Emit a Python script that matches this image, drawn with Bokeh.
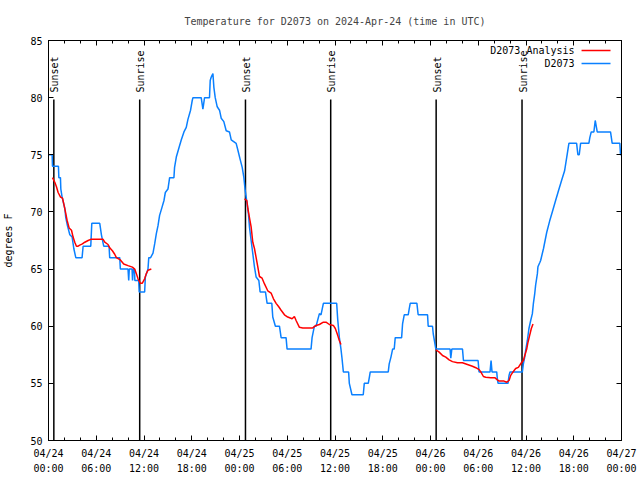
import math
from bokeh.plotting import figure
from bokeh.models import Range1d, FixedTicker, LinearAxis, Label
from bokeh.core.properties import value
from bokeh.embed import file_html
from bokeh.resources import INLINE

TITLE = "Temperature for D2073 on 2024-Apr-24 (time in UTC)"
Y_LABEL = "degrees F"

# hours since 2024-04-24 00:00 UTC
blue_hours = [
    0.00, 0.46, 0.50, 1.25, 1.30, 1.50, 1.55, 1.71, 2.05, 2.17, 2.38, 2.68, 2.97, 3.18, 3.43,
    4.22, 4.35, 5.31, 5.44, 6.44, 6.65, 6.94, 7.61, 7.69, 8.95, 9.03, 9.99, 10.08, 10.15, 10.50,
    10.56, 10.65, 10.80, 10.85, 11.33, 11.40, 12.08, 12.17, 12.50, 12.60, 12.83, 13.13, 13.34,
    13.55, 13.76, 13.96, 14.26, 14.51, 14.68, 15.01, 15.22, 15.76, 15.84, 16.06, 16.35, 16.68,
    17.02, 17.31, 17.52, 17.85, 18.06, 18.15, 19.19, 19.40, 19.61, 20.23, 20.32, 20.45, 20.66,
    20.78, 20.95, 21.20, 21.49, 21.70, 22.03, 22.33, 22.74, 22.96, 23.58, 23.80, 24.08, 24.34,
    24.55, 24.71, 24.96, 25.13, 25.25, 25.46, 25.68, 25.88, 26.09, 26.43, 26.59, 27.26, 27.47,
    28.06, 28.18, 28.51, 29.02, 29.23, 29.85, 29.98, 32.99, 33.12, 33.41, 33.62, 34.04, 34.24,
    34.54, 36.21, 36.34, 36.55, 36.75, 36.88, 37.05, 37.71, 37.80, 38.13, 39.55, 39.68, 40.18,
    40.31, 40.43, 42.69, 42.81, 43.03, 43.24, 43.44, 43.57, 44.37, 44.49, 44.70, 45.20, 45.32,
    45.45, 46.29, 46.45, 47.63, 47.71, 48.25, 48.35, 48.50, 48.67, 50.46, 50.55, 50.68, 52.02,
    52.14, 53.98, 54.10, 55.48, 55.61, 55.73, 56.32, 56.40, 56.49, 57.74, 57.87, 57.99, 59.54,
    59.67, 59.84, 59.96, 60.17, 60.37, 60.59, 60.80, 60.93, 61.09, 61.21, 61.43, 61.50, 61.75,
    61.84, 62.20, 62.60, 62.97, 63.35, 63.72, 64.10, 64.47, 64.85, 65.19, 65.39, 66.36, 66.52,
    66.69, 66.86, 67.90, 68.02, 68.20, 68.53, 68.70, 68.95, 70.62, 70.83, 71.79, 71.88, 72.00,
]
blue_temps = [
    75, 75, 74, 74, 73, 73, 72, 71.3, 70.3, 69.5, 68.8, 68, 67.8, 66.8, 66,
    66, 67, 67, 69, 69, 68, 67, 67, 66, 66, 65, 65, 64, 65, 65,
    64, 65, 65, 64, 64, 63, 63, 64.3, 65, 66, 66, 66.4, 67.2,
    68.1, 68.8, 69.7, 70.4, 71, 71.7, 72, 73, 73, 73.9, 74.8, 75.5, 76.3,
    77, 77.4, 78.1, 78.9, 79.75, 80, 80, 79, 80, 80, 81.5, 81.8, 82.1,
    80.9, 80, 79.2, 78.9, 78.2, 77.9, 77.1, 77, 76.3, 76, 75.4, 74.6, 73.9,
    73, 71.9, 70.7, 69.8, 68.7, 67.5, 66.3, 65.2, 64.3, 64, 63, 63, 62,
    62, 60.8, 60, 60, 59, 59, 58, 58, 59, 60, 60, 61.1, 61,
    62, 62, 60.6, 59, 58, 57.2, 56, 56, 55, 54, 54, 55, 55,
    55.5, 56, 56, 56.7, 57.3, 58, 58, 59, 59, 60.2, 61, 61, 61.5,
    62, 62, 61, 61, 60, 60, 59.3, 58.7, 58, 58, 57.2, 58, 58,
    57, 57, 56, 56, 57, 56, 56, 55.4, 55, 55, 55.7, 56, 56,
    56.7, 57.3, 57.9, 58.75, 59.8, 60.5, 61.1, 62, 62.8, 63.6, 64.6, 65.2, 65.6,
    65.75, 66.8, 68.2, 69.2, 70.1, 71, 71.9, 72.75, 73.6, 75.1, 76, 76, 75,
    75, 76, 76, 76.5, 77, 77, 78, 77, 77, 76, 76, 75, 75,
]

# analysis series (three pieces)
red_hours_1 = [0.50, 0.79, 1.00, 1.21, 1.51, 1.76, 1.92, 2.13, 2.34, 2.59, 2.89, 3.09, 3.30, 3.51,
               3.72, 3.93, 4.26, 4.56, 4.98, 5.31, 6.86, 7.07, 7.48, 7.69, 8.03, 8.32, 8.53, 9.03,
               9.45, 9.99, 10.54, 10.83, 11.04, 11.25, 11.54, 11.79, 12.08, 12.29, 12.50, 12.92]
red_temps_1 = [73.0, 72.6, 72.2, 71.7, 71.3, 71.2, 70.7, 70.0, 69.25, 68.6, 68.4, 67.8, 67.35, 67.0,
               67.0, 67.1, 67.2, 67.35, 67.5, 67.6, 67.6, 67.35, 67.15, 66.86, 66.6, 66.3, 66.0, 65.8,
               65.45, 65.3, 65.17, 65.0, 64.6, 64.15, 63.77, 63.77, 64.15, 64.6, 64.9, 65.0]
red_hours_2 = [24.63, 24.92, 25.05, 25.25, 25.46, 25.67, 25.88, 26.09, 26.30, 26.51, 26.84, 27.14,
               27.55, 27.97, 28.27, 28.60, 28.93, 29.23, 29.65, 30.06, 30.61, 30.90, 31.11, 31.53,
               31.95, 33.20, 33.62, 34.04, 34.54, 34.87, 35.29, 35.79, 36.04, 36.34, 36.54, 36.75]
red_temps_2 = [71.15, 71.0, 70.3, 69.5, 68.7, 67.35, 66.8, 66.0, 65.2, 64.35, 64.2, 63.7,
               63.1, 62.9, 62.4, 62.0, 61.7, 61.4, 61.0, 60.8, 60.65, 60.85, 60.5, 59.9,
               59.85, 59.85, 60.07, 60.15, 60.35, 60.35, 60.15, 60.07, 59.8, 59.2, 58.75, 58.4]
red_hours_3 = [48.67, 49.09, 49.51, 49.92, 50.34, 50.76, 51.39, 52.01, 52.64, 53.27, 53.69, 54.11,
               54.32, 54.65, 54.94, 55.57, 56.07, 56.41, 56.62, 57.24, 57.58, 57.87, 58.08, 58.37,
               58.70, 59.04, 59.42, 59.67, 59.83, 60.09, 60.25, 60.46, 60.67, 60.88]
red_temps_3 = [57.94, 57.73, 57.44, 57.3, 57.06, 56.9, 56.8, 56.8, 56.65, 56.5, 56.37, 56.2,
               56.0, 55.6, 55.54, 55.5, 55.5, 55.3, 55.2, 55.2, 55.1, 55.25, 55.7, 56.0,
               56.3, 56.4, 56.8, 57.0, 57.4, 58.0, 58.6, 59.2, 59.8, 60.2]

sun_hours = [0.67, 11.46, 24.75, 35.46, 48.71, 59.50]
sun_labels = ["Sunset", "Sunrise", "Sunset", "Sunrise", "Sunset", "Sunrise"]

x_tick_hours = [0, 6, 12, 18, 24, 30, 36, 42, 48, 54, 60, 66, 72]
x_tick_labels = ["04/24\n00:00", "04/24\n06:00", "04/24\n12:00", "04/24\n18:00",
                 "04/25\n00:00", "04/25\n06:00", "04/25\n12:00", "04/25\n18:00",
                 "04/26\n00:00", "04/26\n06:00", "04/26\n12:00", "04/26\n18:00",
                 "04/27\n00:00"]
x_minor_hours = list(range(0, 73, 2))
y_ticks = [50, 55, 60, 65, 70, 75, 80, 85]

BLUE = "#0a80ff"
RED = "#ff0000"
FONT = "DejaVu Sans Mono"
FS = "10px"

p = figure(width=640, height=480, output_backend="svg", toolbar_location=None,
           x_range=Range1d(0, 72), y_range=Range1d(50, 85),
           min_border_left=47, min_border_right=19, min_border_top=40, min_border_bottom=40,
           title=TITLE)
p.title.align = "center"
p.title.text_font = FONT
p.title.text_font_size = FS
p.title.text_font_style = "normal"
p.title.text_line_height = 1.0
p.title.standoff = 27
p.xgrid.visible = False
p.ygrid.visible = False
p.outline_line_color = "black"
p.background_fill_color = "white"
p.border_fill_color = "white"

xt = FixedTicker(ticks=x_tick_hours, minor_ticks=x_minor_hours)
yt = FixedTicker(ticks=y_ticks, minor_ticks=[])

def style_axis(ax, labels=True):
    ax.axis_line_color = "black"
    ax.major_tick_line_color = "black"
    ax.minor_tick_line_color = "black"
    ax.major_tick_in = 5
    ax.major_tick_out = 0
    ax.minor_tick_in = 3
    ax.minor_tick_out = 0
    ax.major_label_text_font = FONT
    if labels:
        ax.major_label_text_font_size = FS
        ax.major_label_text_color = "black"
    else:
        ax.major_label_text_font_size = "1px"
        ax.major_label_text_color = None
        ax.major_label_standoff = 0

xa = p.xaxis[0]
xa.ticker = xt
xa.major_label_overrides = {h: s for h, s in zip(x_tick_hours, x_tick_labels)}
style_axis(xa)
xa.major_label_standoff = 7
xa.major_label_text_line_height = 1.45

ya = p.yaxis[0]
ya.ticker = yt
ya.major_label_overrides = {v: str(v) for v in y_ticks}
style_axis(ya)
ya.major_label_standoff = 6
ya.axis_label = Y_LABEL
ya.axis_label_text_font = FONT
ya.axis_label_text_font_size = FS
ya.axis_label_text_font_style = "normal"
ya.axis_label_text_color = "black"
ya.axis_label_standoff = 13

top = LinearAxis(ticker=xt)
style_axis(top, labels=False)
p.add_layout(top, "above")
right = LinearAxis(ticker=yt)
style_axis(right, labels=False)
p.add_layout(right, "right")

# sunrise / sunset markers
p.segment(x0=sun_hours, y0=[50] * len(sun_hours), x1=sun_hours, y1=[79.84] * len(sun_hours),
          line_color="black", line_width=1.5)
p.text(x=sun_hours, y=[80.45] * len(sun_hours), text=sun_labels, angle=math.pi / 2,
       text_align="left", text_baseline="middle", x_offset=1,
       text_font=value(FONT), text_font_size=FS, text_color="black")

# data
nan = float("nan")
red_hours = red_hours_1 + [nan] + red_hours_2 + [nan] + red_hours_3
red_temps = red_temps_1 + [nan] + red_temps_2 + [nan] + red_temps_3
p.line(blue_hours, blue_temps, line_color=BLUE, line_width=1.5)
p.line(red_hours, red_temps, line_color=RED, line_width=1.5)

# legend (gnuplot style: text then sample)
leg_text_x = 66.1
leg_x0, leg_x1 = 66.98, 70.62
leg_rows = [("D2073 Analysis", RED, 84.13), ("D2073", BLUE, 82.99)]
for txt, col, yy in leg_rows:
    p.add_layout(Label(x=leg_text_x, y=yy, text=txt, text_align="right", text_baseline="middle",
                       text_font=FONT, text_font_size=FS, text_color="black"))
p.segment(x0=[leg_x0, leg_x0], y0=[r[2] for r in leg_rows], x1=[leg_x1, leg_x1],
          y1=[r[2] for r in leg_rows], line_color=[r[1] for r in leg_rows], line_width=1.5)

open("out.html", "w").write(file_html(p, INLINE))
